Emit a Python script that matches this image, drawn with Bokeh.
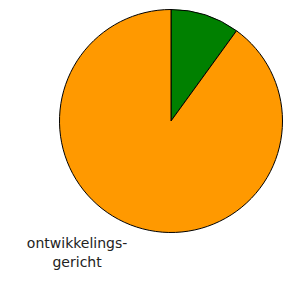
import math
from bokeh.plotting import figure
from bokeh.models import ColumnDataSource, Range1d
from bokeh.core.properties import value
from bokeh.embed import file_html
from bokeh.resources import INLINE

categories = ["groen", "ontwikkelingsgericht"]
values = [10, 90]
colors = ["#008000", "#ff9900"]
labels = ["", "ontwikkelings-\ngericht"]

total = sum(values)
starts, ends, lx, ly = [], [], [], []
a = math.pi / 2
for v in values:
    span = 2 * math.pi * v / total
    starts.append(a)
    ends.append(a - span)
    mid = a - span / 2
    lx.append(1.1 * math.cos(mid))
    ly.append(1.1 * math.sin(mid))
    a -= span

src = ColumnDataSource(dict(cat=categories, val=values, color=colors,
                            start=starts, end=ends))
lsrc = ColumnDataSource(dict(x=lx[1:], y=ly[1:], t=labels[1:]))

W, H = 284, 280
R = 111.5
cx, cy = 170.5, 120.5
p = figure(width=W, height=H, output_backend="svg", toolbar_location=None,
           x_range=Range1d(-cx / R, (W - cx) / R),
           y_range=Range1d(-(H - cy) / R, cy / R),
           min_border=0)
p.axis.visible = False
p.grid.visible = False
p.outline_line_color = None
p.background_fill_color = "white"

p.wedge(x=0, y=0, radius=1, start_angle="start", end_angle="end",
        direction="clock", fill_color="color", line_color="black",
        line_width=1, source=src)

p.text(x="x", y="y", text="t", source=lsrc, text_align="center",
       text_baseline="top", x_offset=-56, y_offset=-3,
       text_font=value("DejaVu Sans"), text_font_size="14px",
       text_color="#222222", text_line_height=1.2)

open("out.html", "w").write(file_html(p, INLINE))
